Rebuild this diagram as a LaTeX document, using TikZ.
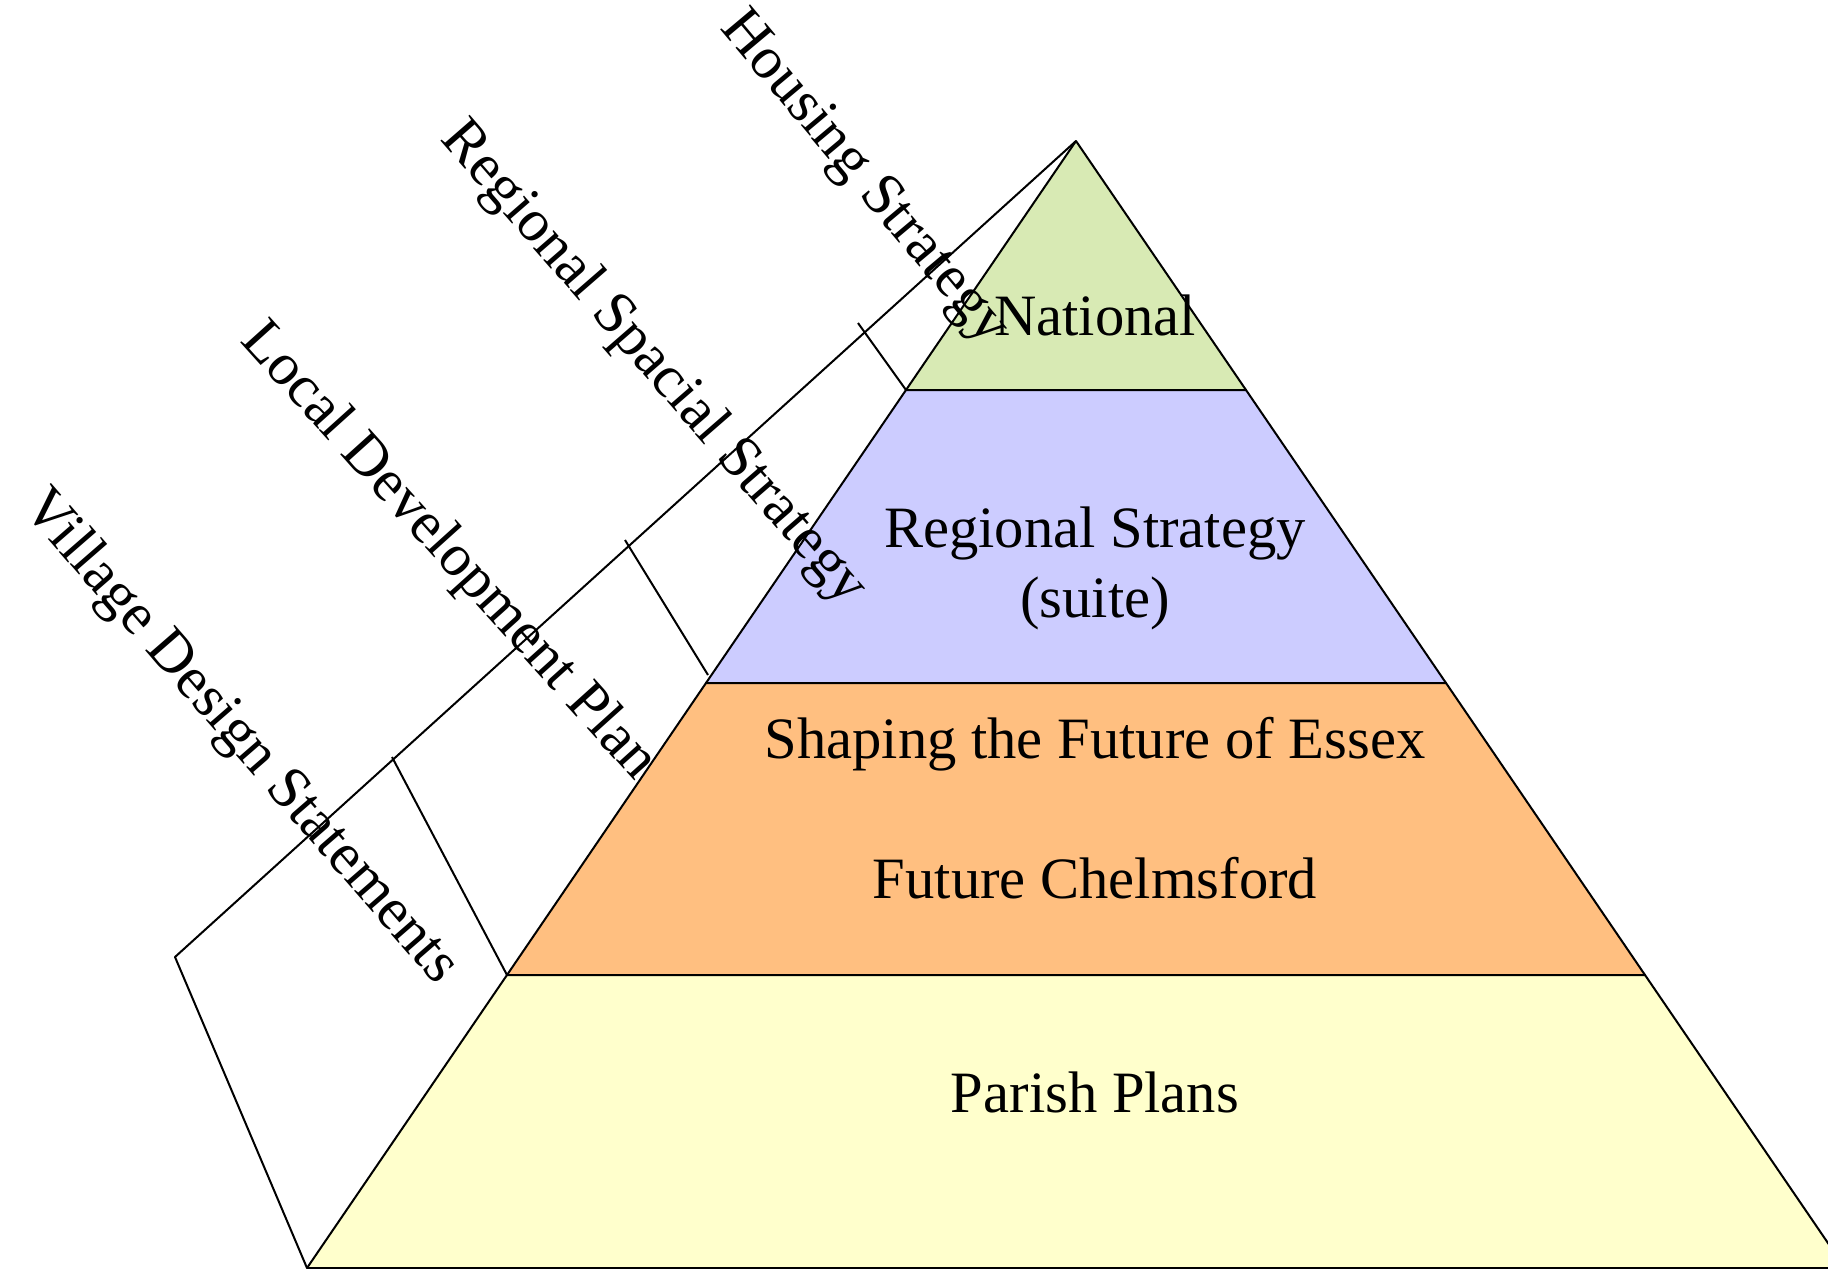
\documentclass[tikz,border=0pt]{standalone}
\usepackage{fontspec}
\setmainfont{Liberation Serif}
\definecolor{natgreen}{RGB}{216,234,180}
\definecolor{regblue}{RGB}{204,204,255}
\definecolor{cntorange}{RGB}{255,191,128}
\definecolor{paryellow}{RGB}{255,255,204}
\begin{document}
\begin{tikzpicture}[x=0.5pt,y=-0.5pt,
  layer/.style={draw=black,line width=1pt,line join=round},
  edge/.style={draw=black,line width=1pt,line join=round},
  lbl/.style={font=\fontsize{29.3}{35}\selectfont,inner sep=0pt},
  side/.style={font=\fontsize{29.8}{35}\selectfont,inner sep=0pt,anchor=center}]
\useasboundingbox (0,0) rectangle (1828,1269);
\clip (0,0) rectangle (1828,1269);
% pyramid points
\coordinate (apex) at (1076,141);
\coordinate (l1) at (906,390);  \coordinate (r1) at (1246,390);
\coordinate (l2) at (706,683);  \coordinate (r2) at (1446,683);
\coordinate (l3) at (507,975);  \coordinate (r3) at (1645,975);
\coordinate (l4) at (307,1268); \coordinate (r4) at (1845,1268);
\coordinate (back) at (175,957);
% tick ends
\coordinate (t1) at (858,323);
\coordinate (t2) at (625,540);
\coordinate (e2) at (708,675);
\coordinate (t3) at (392,757);
% layers
\filldraw[layer,fill=natgreen] (apex) -- (r1) -- (l1) -- cycle;
\filldraw[layer,fill=regblue] (l1) -- (r1) -- (r2) -- (l2) -- cycle;
\filldraw[layer,fill=cntorange] (l2) -- (r2) -- (r3) -- (l3) -- cycle;
\filldraw[layer,fill=paryellow] (l3) -- (r3) -- (r4) -- (l4) -- cycle;
% back face
\draw[edge] (apex) -- (back) -- (l4);
\draw[edge] (t1) -- (l1);
\draw[edge] (t2) -- (e2);
\draw[edge] (t3) -- (l3);
% layer texts
\node[lbl,anchor=base] (nat) at (1095,335) {National};
\node[lbl,anchor=base] (reg) at (1095,547) {Regional Strategy};
\node[lbl,anchor=base] (suite) at (1095,617) {(suite)};
\node[lbl,anchor=base] (essex) at (1095,758) {Shaping the Future of Essex};
\node[lbl,anchor=base] (chelm) at (1095,898) {Future Chelmsford};
\node[lbl,anchor=base] (parish) at (1095,1112) {Parish Plans};
% side labels
\node[side,rotate=-50] (housing) at (863,179) {Housing Strategy};
\node[side,rotate=-49] (rss) at (653,364) {Regional Spacial Strategy};
\node[side,rotate=-48] (ldp) at (448,552) {Local Development Plan};
\node[side,rotate=-49] (vds) at (240,738) {Village Design Statements};
\end{tikzpicture}
\end{document}
